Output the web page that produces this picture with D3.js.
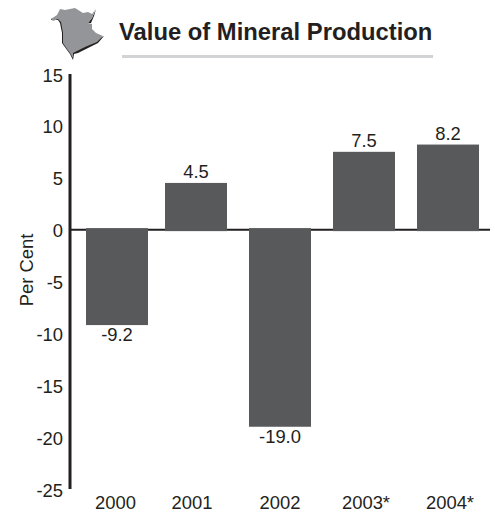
<!DOCTYPE html>
<html><head><meta charset="utf-8"><style>html,body{margin:0;background:#fff}svg{display:block}text{font-family:"Liberation Sans",Arial,sans-serif;fill:#231f20}</style>
<script src="https://cdn.jsdelivr.net/npm/d3@7/dist/d3.min.js"></script></head><body><script>
const years=["2000","2001","2002","2003*","2004*"];
const values=[-9.2,4.5,-19.0,7.5,8.2];
const valueLabels=["-9.2","4.5","-19.0","7.5","8.2"];
const yTicks=[15,10,5,0,-5,-10,-15,-20,-25];
const titleText="Value of Mineral Production";
const yTitle="Per Cent";
const barLeft=[86,165,249,333,417];
const yearCentre=[115.5,192,280,366,450];
const svg=d3.select("body").append("svg").attr("width",495).attr("height",512);
const y=d3.scaleLinear().domain([-25,15]).range([489,74]);
const x=d3.scaleOrdinal().domain(years).range(barLeft);
const xLabel=d3.scaleOrdinal().domain(years).range(yearCentre);
const barW=62;
const shape=[[51,19],[57,15],[60,9],[65,10],[75,8],[83,13],[88,12],[92,14],[95,10],[92,18],[88,23],[92,24],[92,29],[96,33],[103,36],[97,42],[85,47],[77,51],[73,53],[73,58],[70,53],[67,49],[63,43],[63,33],[61,22],[58,19],[53,21]];
const lineGen=d3.line().curve(d3.curveLinearClosed);
const gMap=svg.append("g");
gMap.append("path").attr("d","M51,20L58,20L60,23L62,33L62,43L67,50L70,54L73,60L74,54L78,53L86,49L98,43L104,36L96,40L85,45L77,49L72,51L65,42L64,33L62,21L58,17L51,19Z").attr("fill","#231f20");
gMap.append("path").attr("d","M96,9L92,18L88,23L91,23L94,16Z").attr("fill","#231f20");
gMap.append("path").attr("d",lineGen(shape)).attr("fill","#939598");
svg.append("text").attr("x",119).attr("y",40).attr("font-size",23.8).attr("font-weight",700).text(titleText);
svg.append("line").attr("x1",122).attr("x2",433).attr("y1",56.5).attr("y2",56.5).attr("stroke","#d1d3d4").attr("stroke-width",3);
svg.append("line").attr("x1",70).attr("x2",490).attr("y1",y(0)).attr("y2",y(0)).attr("stroke","#231f20").attr("stroke-width",2);
svg.selectAll("rect.bar").data(values).join("rect").attr("class","bar")
 .attr("x",(d,i)=>x(years[i])).attr("width",barW)
 .attr("y",d=>d>=0?y(d):y(0)-1.5).attr("height",d=>Math.abs(y(d)-y(0))+1.5)
 .attr("fill","#58595b");
svg.append("line").attr("x1",70).attr("x2",70).attr("y1",y(15)).attr("y2",y(-25)).attr("stroke","#231f20").attr("stroke-width",3);
svg.selectAll("text.yt").data(yTicks).join("text").attr("class","yt")
 .attr("x",63).attr("y",d=>y(d)+7.5).attr("text-anchor","end").attr("font-size",18.4).text(d=>d);
svg.selectAll("text.xt").data(years).join("text").attr("class","xt")
 .attr("x",d=>xLabel(d)).attr("y",509).attr("text-anchor","middle").attr("font-size",18.4).text(d=>d);
svg.selectAll("text.v").data(values).join("text").attr("class","v")
 .attr("x",(d,i)=>x(years[i])+barW/2).attr("y",d=>d>=0?y(d)-4.5:y(d)+16).attr("text-anchor","middle").attr("font-size",18.4).text((d,i)=>valueLabels[i]);
svg.append("text").attr("transform","translate(33,270) rotate(-90)").attr("text-anchor","middle").attr("font-size",18.4).text(yTitle);
</script></body></html>
